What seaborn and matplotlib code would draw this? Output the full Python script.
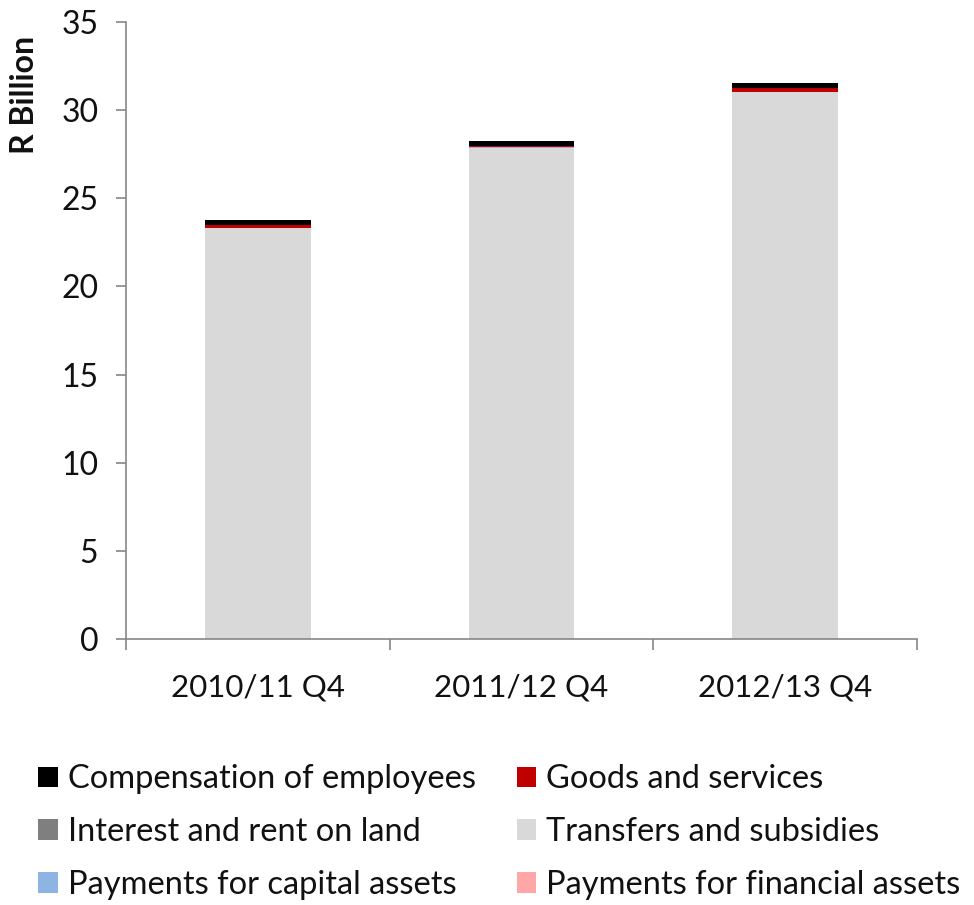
import matplotlib
matplotlib.use("Agg")
import matplotlib.pyplot as plt
from matplotlib.patches import Patch
import numpy as np
import pandas as pd
import seaborn as sns

# Quarterly expenditure by economic classification (R billion)
quarters = ["2010/11 Q4", "2011/12 Q4", "2012/13 Q4"]
compensation = [0.30, 0.27, 0.29]
goods_services = [0.12, 0.10, 0.18]
interest_rent = [0.00, 0.00, 0.00]
transfers = [23.30, 27.85, 31.02]
capital_assets = [0.01, 0.01, 0.01]
financial_assets = [0.03, 0.03, 0.02]

series_names = [
    "Compensation of employees",
    "Goods and services",
    "Interest and rent on land",
    "Transfers and subsidies",
    "Payments for capital assets",
    "Payments for financial assets",
]
series_values = [compensation, goods_services, interest_rent,
                 transfers, capital_assets, financial_assets]
colors = ["#000000", "#C00000", "#7F7F7F", "#D9D9D9", "#8DB4E2", "#FFA6A6"]

# stacking order, bottom to top
stack_order = [3, 5, 4, 2, 1, 0]

sns.set_theme(style="white")
plt.rcParams["font.family"] = ["Lato", "DejaVu Sans"]

fig = plt.figure(figsize=(9.74, 9.05), dpi=100)
ax = fig.add_axes([0.1294, 0.2939, 0.8121, 0.6818])

# cumulative heights, drawn from the tallest down so each layer shows its slice
cum = np.zeros(len(quarters))
cumulative = {}
for idx in stack_order:
    cum = cum + np.array(series_values[idx])
    cumulative[idx] = cum.copy()

for idx in reversed(stack_order):
    df = pd.DataFrame({"quarter": quarters, "value": cumulative[idx]})
    sns.barplot(data=df, x="quarter", y="value", color=colors[idx],
                width=0.4, saturation=1, ax=ax, linewidth=0)

ax.set_xlim(-0.5, 2.5)
ax.set_ylim(0, 35)
ax.set_yticks(np.arange(0, 36, 5))
ax.set_xlabel("")
ax.set_ylabel("")

spine_color = "#868686"
text_color = "#111111"
for side in ["top", "right"]:
    ax.spines[side].set_visible(False)
for side in ["left", "bottom"]:
    ax.spines[side].set_color(spine_color)
    ax.spines[side].set_linewidth(1.2)

ax.set_xticks([0, 1, 2])
ax.set_xticklabels(quarters)
ax.set_xticks([-0.5, 0.5, 1.5, 2.5], minor=True)
ax.tick_params(axis="x", which="major", length=0, pad=25, labelsize=22.5,
               labelcolor=text_color)
ax.tick_params(axis="x", which="minor", length=8, width=1.2,
               color=spine_color, direction="out", bottom=True)
ax.tick_params(axis="y", which="major", length=7, width=1.2,
               color=spine_color, direction="out", left=True, pad=13,
               labelsize=23, labelcolor=text_color)

fig.text(25 / 974, 1 - 95 / 905, "R Billion", rotation=90, ha="center",
         va="center", fontsize=23, fontweight="bold", color=text_color)

# legend laid out row by row in two columns
order = [0, 2, 4, 1, 3, 5]
handles = [Patch(facecolor=colors[i], edgecolor="none") for i in order]
labels = [series_names[i] for i in order]
leg = fig.legend(handles, labels, ncol=2, loc="upper left",
                 bbox_to_anchor=(9 / 974, 1 - 735 / 905), frameon=False,
                 fontsize=23.5, handlelength=0.6, handleheight=0.6,
                 handletextpad=0.3, columnspacing=1.25, labelspacing=0.7)
for t in leg.get_texts():
    t.set_color(text_color)

fig.savefig("out.png", dpi=100)
